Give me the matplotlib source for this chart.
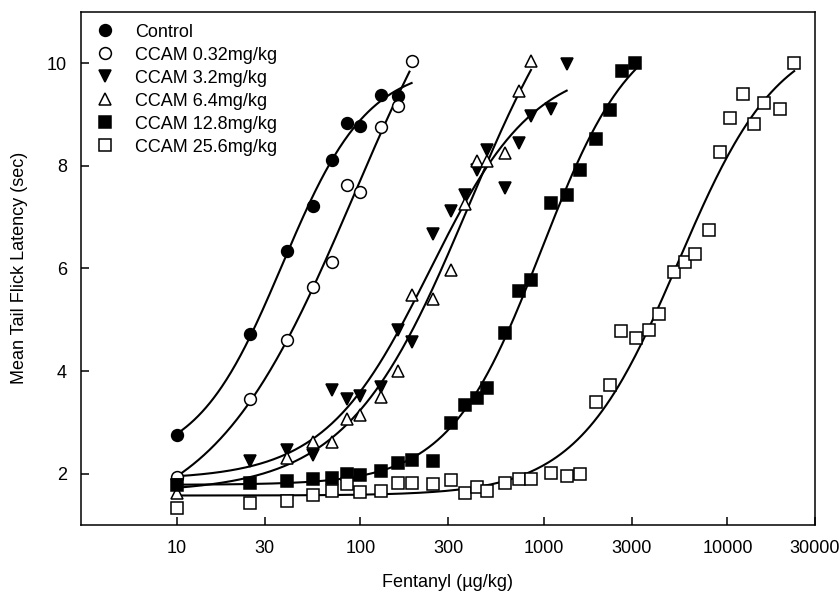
import numpy as np
import matplotlib
matplotlib.use("Agg")
import matplotlib.pyplot as plt

plt.rcParams['font.family'] = ['Liberation Sans', 'DejaVu Sans']

# ---------------- data ----------------
labels = ["Control", "CCAM 0.32mg/kg", "CCAM 3.2mg/kg", "CCAM 6.4mg/kg",
          "CCAM 12.8mg/kg", "CCAM 25.6mg/kg"]

control_x = [10, 25, 40, 55, 70, 85, 100, 130, 160]
control_y = [2.75, 4.72, 6.34, 7.22, 8.11, 8.84, 8.78, 9.38, 9.35]

ccam032_x = [10, 25, 40, 55, 70, 85, 100, 130, 160, 190]
ccam032_y = [1.93, 3.46, 4.60, 5.64, 6.12, 7.63, 7.48, 8.76, 9.17, 10.03]

ccam32_x = [10, 25, 40, 55, 70, 85, 100, 130, 160, 190, 250, 310, 370, 430,
            490, 610, 730, 850, 1090, 1330]
ccam32_y = [1.78, 2.24, 2.47, 2.36, 3.63, 3.45, 3.51, 3.68, 4.80, 4.57, 6.67,
            7.12, 7.43, 7.92, 8.31, 7.56, 8.44, 8.96, 9.10, 9.99]

ccam64_x = [10, 40, 55, 70, 85, 100, 130, 160, 190, 250, 310, 370, 430, 490,
            610, 730, 850]
ccam64_y = [1.62, 2.30, 2.62, 2.62, 3.06, 3.15, 3.49, 4.00, 5.48, 5.40, 5.97,
            7.25, 8.10, 8.10, 8.25, 9.45, 10.03]

ccam128_x = [10, 25, 40, 55, 70, 85, 100, 130, 160, 190, 250, 310, 370, 430,
             490, 610, 730, 850, 1090, 1330, 1570, 1930, 2290, 2670, 3150]
ccam128_y = [1.77, 1.82, 1.85, 1.89, 1.92, 1.99, 1.98, 2.05, 2.21, 2.26, 2.24,
             2.99, 3.33, 3.48, 3.66, 4.74, 5.56, 5.77, 7.27, 7.43, 7.92, 8.52,
             9.09, 9.84, 10.00]

ccam256_x = [10, 25, 40, 55, 70, 85, 100, 130, 160, 190, 250, 310, 370, 430,
             490, 610, 730, 850, 1090, 1330, 1570, 1930, 2290, 2620, 3170,
             3740, 4260, 5090, 5900, 6690, 7900, 9080, 10290, 12160, 14000,
             15880, 19400, 23100]
ccam256_y = [1.34, 1.43, 1.46, 1.59, 1.66, 1.79, 1.65, 1.67, 1.82, 1.82, 1.79,
             1.88, 1.63, 1.74, 1.67, 1.82, 1.89, 1.89, 2.01, 1.95, 1.99, 3.40,
             3.72, 4.78, 4.65, 4.80, 5.12, 5.93, 6.13, 6.27, 6.75, 8.26, 8.93,
             9.40, 8.82, 9.22, 9.11, 10.01]

# dose range over which each fitted curve is drawn
curve_start = [10, 10, 10, 10, 10, 10]
curve_end = [190, 185, 1330, 850, 3150, 23100]

x_ticks = [10, 30, 100, 300, 1000, 3000, 10000, 30000]
y_ticks = [2, 4, 6, 8, 10]

series_x = [control_x, ccam032_x, ccam32_x, ccam64_x, ccam128_x, ccam256_x]
series_y = [control_y, ccam032_y, ccam32_y, ccam64_y, ccam128_y, ccam256_y]
markers = ['o', 'o', 'v', '^', 's', 's']
faces = ['black', 'white', 'black', 'white', 'black', 'white']
msizes = [8.5, 8.5, 8.5, 8.5, 8.0, 8.0]


def fit_logistic(x, y):
    """Least-squares 4-parameter sigmoid on log dose; returns (bottom, top, logE, h)."""
    lx = np.log10(np.asarray(x, float))
    y = np.asarray(y, float)
    le = np.linspace(lx.min() - 0.5, lx.max() + 1.5, 401)[:, None, None]
    hh = np.linspace(0.3, 4.0, 371)[None, :, None]
    f = 1.0 / (1.0 + 10.0 ** (hh * (le - lx[None, None, :])))
    g = 1.0 - f
    s11 = np.sum(g * g, axis=2); s12 = np.sum(g * f, axis=2); s22 = np.sum(f * f, axis=2)
    r1 = np.sum(g * y, axis=2); r2 = np.sum(f * y, axis=2)
    det = s11 * s22 - s12 * s12
    det = np.where(np.abs(det) < 1e-12, np.nan, det)
    b = (r1 * s22 - r2 * s12) / det
    t = (s11 * r2 - s12 * r1) / det
    pred = b[..., None] * g + t[..., None] * f
    sse = np.sum((pred - y) ** 2, axis=2)
    bad = ~np.isfinite(sse) | (b < 0.5) | (t > 14) | (t < 8)
    sse = np.where(bad, np.inf, sse)
    i, j = np.unravel_index(np.argmin(sse), sse.shape)
    return b[i, j], t[i, j], le[i, 0, 0], hh[0, j, 0]


fig = plt.figure(figsize=(8.4, 5.96), dpi=100)
ax = fig.add_axes([81 / 840, 1 - 525 / 596, (815 - 81) / 840, (525 - 11.7) / 596])

for k in range(6):
    bot, top, le, h = fit_logistic(series_x[k], series_y[k])
    xc = np.logspace(np.log10(curve_start[k]), np.log10(curve_end[k]), 300)
    yc = bot + (top - bot) / (1.0 + 10.0 ** (h * (le - np.log10(xc))))
    ax.plot(xc, yc, color='black', lw=1.5, zorder=2)

for k in range(6):
    ax.plot(series_x[k], series_y[k], linestyle='none', marker=markers[k],
            ms=msizes[k], mfc=faces[k], mec='black', mew=1.1,
            label=labels[k], zorder=3)

ax.set_xscale('log')
ax.set_xlim(3, 30000)
ax.set_ylim(1, 11)
ax.set_xticks(x_ticks)
ax.set_xticklabels([str(t) for t in x_ticks])
ax.xaxis.set_minor_locator(matplotlib.ticker.NullLocator())
ax.set_yticks(y_ticks)
ax.tick_params(axis='both', direction='in', length=6, width=1.1,
               labelsize=13)
ax.tick_params(axis='x', pad=11)
ax.tick_params(axis='y', pad=10)
for s in ax.spines.values():
    s.set_linewidth(1.1)

ax.set_xlabel('Fentanyl (µg/kg)', fontsize=13, labelpad=12)
ax.set_ylabel('Mean Tail Flick Latency (sec)', fontsize=13, labelpad=14)

ax.legend(loc='upper left', bbox_to_anchor=(0.0204, 0.9765), frameon=False,
          borderpad=0, borderaxespad=0, handlelength=1.0, handletextpad=1.17,
          labelspacing=0.33, numpoints=1, fontsize=13)

fig.savefig('out.png', dpi=100)
